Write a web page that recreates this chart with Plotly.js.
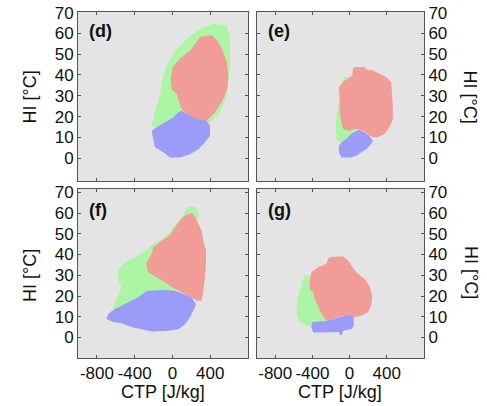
<!DOCTYPE html>
<html>
<head>
<meta charset="utf-8">
<script src="https://cdn.plot.ly/plotly-3.0.1.min.js"></script>
<style>html,body{margin:0;padding:0;background:#fff;}#chart{width:487px;height:406px;}</style>
</head>
<body>
<div id="chart"></div>
<script>
// Tick values / labels
var xTickVals = [-800, -400, 0, 400];
var xTickText = ['-800', '-400', '0', '400'];
var yTickVals = [0, 10, 20, 30, 40, 50, 60, 70];
var panelLabels = ['(d)', '(e)', '(f)', '(g)'];

// Panel (d)
var d_green_x = [292,433,575,610,610,575,504,398,-221,-186,-133,-98,-62,9,151,274];
var d_green_y = [62.3,64.7,63.9,57.5,44.6,30.1,22.1,17.2,14.8,22.1,30.1,39.7,44.6,50.2,57.5,61.5];
var d_red_x = [292,416,486,539,575,592,581,522,451,363,292,221,151,98,72,45,-8,-19,2,80,186,257];
var d_red_y = [58.3,59.1,55.9,51.0,46.2,39.7,33.3,26.9,22.1,18.0,18.0,18.8,21.2,23.7,26.9,30.9,33.3,38.1,43.8,47.8,51.8,55.9];
var d_blue_x = [98,186,274,363,398,398,345,274,186,80,-27,-98,-186,-204,-221,-168,-80,9,62];
var d_blue_y = [22.8,20.4,18.8,18.0,15.6,10.8,7.6,4.3,1.9,0.3,0.3,2.8,5.2,9.2,13.2,14.8,17.2,19.6,22.1];

// Panel (e)
var e_green_x = [-64,0,18,0,54,-72,-143,-150,-136,-100,-89];
var e_green_y = [39.0,39.0,31.7,15.6,12.4,6.8,9.2,15.6,22.1,28.5,34.9];
var e_red_x = [36,54,161,179,250,322,393,447,458,465,465,429,375,304,250,196,143,72,0,-72,-89,-107,-107,-115,-72,-18,29];
var e_red_y = [43.0,43.8,43.8,42.6,42.2,40.6,39.0,36.6,31.7,25.3,18.8,14.8,11.6,10.0,10.0,11.6,13.2,14.0,13.2,14.0,18.0,22.1,28.5,34.1,36.6,38.1,39.7];
var e_blue_x = [107,161,214,250,232,179,125,72,0,-89,-115,-115,-89,-36,18,72];
var e_blue_y = [13.5,12.4,10.8,8.4,6.8,4.3,2.8,1.1,0.3,0.3,2.8,5.9,7.6,9.2,11.6,13.2];

// Panel (f)
var f_green_x = [168,246,281,239,62,27,-115,-610,-628,-603,-568,-539,-575,-575,-533,-469,-398,-292,-204,-133,-45,27,104];
var f_green_y = [63.2,62.9,59.7,53.2,37.1,20.9,17.7,11.3,13.7,17.7,20.9,24.2,27.4,32.2,34.6,37.1,38.7,41.6,45.1,46.7,50.0,54.0,58.3];
var f_red_x = [133,204,239,274,310,327,355,355,345,327,310,257,204,98,27,-80,-168,-257,-274,-274,-221,-204,-115,-27,27,80];
var f_red_y = [58.8,60.0,58.1,54.8,51.6,46.7,41.9,35.5,29.0,22.5,17.7,17.7,19.4,21.8,23.4,26.6,29.0,31.4,33.9,36.3,40.3,43.5,46.7,49.2,53.2,56.4];
var f_blue_x = [-257,-115,27,133,204,250,221,186,133,62,-45,-221,-327,-433,-539,-628,-698,-681,-628,-575,-469,-363,-292];
var f_blue_y = [22.5,22.9,22.5,20.9,19.4,16.0,12.9,9.7,6.4,4.0,3.2,2.9,4.0,5.1,6.8,7.5,8.9,11.3,13.2,14.5,16.9,19.4,21.8];

// Panel (g)
var g_green_x = [-482,-422,-357,-250,-214,-393,-482,-543,-572,-565,-536,-507];
var g_green_y = [29.8,30.1,20.1,9.7,6.4,4.8,6.0,8.0,12.1,18.5,23.4,27.4];
var g_red_x = [-214,-72,-18,18,72,161,214,243,232,196,125,36,-72,-179,-250,-286,-322,-340,-375,-393,-429,-429,-411,-340,-250,-232];
var g_red_y = [38.7,39.2,37.1,34.6,31.4,28.2,25.0,20.1,15.3,12.1,10.5,9.7,10.5,8.9,8.0,10.5,12.9,15.3,18.5,21.8,23.4,27.4,31.4,33.9,35.5,37.9];
var g_blue_x = [-400,-250,-179,-107,-54,18,45,45,18,-72,-79,-107,-115,-286,-393,-411];
var g_blue_y = [7.5,8.0,8.9,9.7,10.5,10.9,9.7,5.6,4.0,3.2,1.6,1.1,2.7,2.4,2.4,4.8];

var GREEN = '#abf5a5', RED = '#f19c97', BLUE = '#9a9cf7';
var FONT = 'Liberation Sans, Arial, Helvetica, sans-serif';

function poly(x, y, color, ax) {
  return {x: x, y: y, type: 'scatter', mode: 'lines', fill: 'toself',
          fillcolor: color, line: {width: 0, color: color},
          xaxis: 'x' + ax, yaxis: 'y' + ax, hoverinfo: 'skip'};
}

var traces = [
  poly(d_green_x, d_green_y, GREEN, ''), poly(d_red_x, d_red_y, RED, ''), poly(d_blue_x, d_blue_y, BLUE, ''),
  poly(e_green_x, e_green_y, GREEN, '2'), poly(e_red_x, e_red_y, RED, '2'), poly(e_blue_x, e_blue_y, BLUE, '2'),
  poly(f_green_x, f_green_y, GREEN, '3'), poly(f_red_x, f_red_y, RED, '3'), poly(f_blue_x, f_blue_y, BLUE, '3'),
  poly(g_green_x, g_green_y, GREEN, '4'), poly(g_red_x, g_red_y, RED, '4'), poly(g_blue_x, g_blue_y, BLUE, '4')
];

function xax(domain, anchor, labels) {
  return {domain: domain, anchor: anchor, range: [-1000, 800], tickmode: 'array',
          tickvals: xTickVals, ticktext: xTickText, ticks: 'inside', ticklen: 3,
          tickcolor: '#555', showline: true, linecolor: '#555', linewidth: 1,
          mirror: 'ticks', showgrid: false, zeroline: false, showticklabels: labels,
          tickfont: {family: FONT, size: 17, color: '#111'}, fixedrange: true};
}
function yax(domain, anchor, range, side) {
  return {domain: domain, anchor: anchor, range: range, side: side, tickmode: 'array',
          tickvals: yTickVals, ticks: 'inside', ticklen: 3,
          tickcolor: '#555', showline: true, linecolor: '#555', linewidth: 1,
          mirror: 'ticks', showgrid: false, zeroline: false,
          tickfont: {family: FONT, size: 17, color: '#111'}, fixedrange: true};
}

var xL = [0.1602, 0.5092], xR = [0.527, 0.8706];
var yT = [0.5542, 0.9704], yB = [0.1182, 0.5345];
var rT = [-11, 70.3], rB = [-9.9, 71.6];

var ann = [];
var labRefs = [['x', 'y'], ['x2', 'y2'], ['x3', 'y3'], ['x4', 'y4']];
var labY = [0.888, 0.888, 0.876, 0.876];
for (var i = 0; i < 4; i++) {
  ann.push({text: '<b>' + panelLabels[i] + '</b>', xref: labRefs[i][0] + ' domain', yref: labRefs[i][1] + ' domain',
            x: 0.055, y: labY[i], xanchor: 'left', yanchor: 'middle', showarrow: false,
            font: {family: FONT, size: 18, color: '#111'}});
}
var titleFont = {family: FONT, size: 18, color: '#111'};
ann.push({text: 'HI [°C]', xref: 'paper', yref: 'paper', x: 0.0616, y: 0.7623, textangle: -90, showarrow: false, xanchor: 'center', yanchor: 'middle', font: titleFont});
ann.push({text: 'HI [°C]', xref: 'paper', yref: 'paper', x: 0.0616, y: 0.3227, textangle: -90, showarrow: false, xanchor: 'center', yanchor: 'middle', font: titleFont});
ann.push({text: 'HI [°C]', xref: 'paper', yref: 'paper', x: 0.967, y: 0.7598, textangle: 90, showarrow: false, xanchor: 'center', yanchor: 'middle', font: titleFont});
ann.push({text: 'HI [°C]', xref: 'paper', yref: 'paper', x: 0.967, y: 0.3276, textangle: 90, showarrow: false, xanchor: 'center', yanchor: 'middle', font: titleFont});
ann.push({text: 'CTP [J/kg]', xref: 'paper', yref: 'paper', x: 0.3340, y: 0.0345, showarrow: false, xanchor: 'center', yanchor: 'middle', font: titleFont});
ann.push({text: 'CTP [J/kg]', xref: 'paper', yref: 'paper', x: 0.6988, y: 0.0345, showarrow: false, xanchor: 'center', yanchor: 'middle', font: titleFont});

var layout = {
  width: 487, height: 406, margin: {l: 0, r: 0, t: 0, b: 0},
  paper_bgcolor: '#ffffff', plot_bgcolor: '#e4e4e4', showlegend: false,
  xaxis: xax(xL, 'y', false), yaxis: yax(yT, 'x', rT, 'left'),
  xaxis2: xax(xR, 'y2', false), yaxis2: yax(yT, 'x2', rT, 'right'),
  xaxis3: xax(xL, 'y3', true), yaxis3: yax(yB, 'x3', rB, 'left'),
  xaxis4: xax(xR, 'y4', true), yaxis4: yax(yB, 'x4', rB, 'right'),
  annotations: ann,
  font: {family: FONT}
};

Plotly.newPlot('chart', traces, layout, {displayModeBar: false, staticPlot: true});
</script>
</body>
</html>
